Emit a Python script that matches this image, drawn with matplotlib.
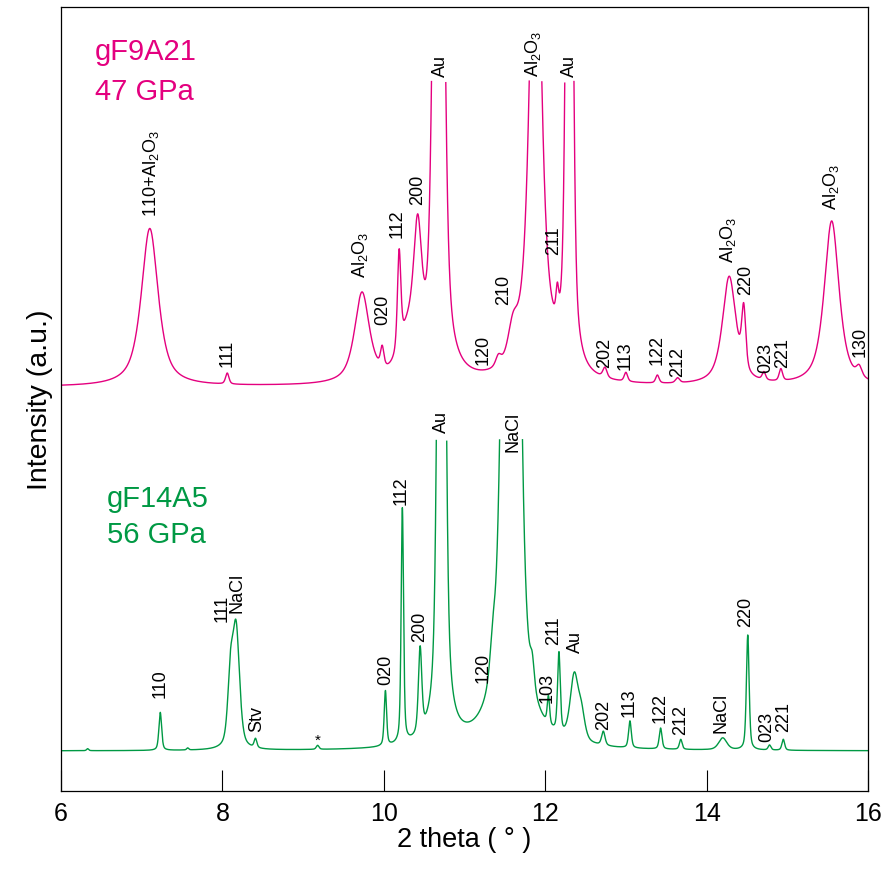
import numpy as np
import matplotlib
matplotlib.use("Agg")
import matplotlib.pyplot as plt

plt.rcParams["font.family"] = ["Liberation Sans", "DejaVu Sans"]
plt.rcParams["mathtext.fontset"] = "custom"
plt.rcParams["mathtext.rm"] = "Liberation Sans"
plt.rcParams["mathtext.it"] = "Liberation Sans:italic"

PINK = "#e4007f"
GREEN = "#009944"

# Patron gF9A21 (47 GPa): posicion 2theta, altura, ancho (FWHM), fraccion lorentziana
pink_pos = [7.10, 8.06, 9.73, 9.98, 10.19, 10.30, 10.42, 10.68, 11.42, 11.60,
            11.88, 12.15, 12.30, 12.74, 13.00, 13.39, 13.64, 14.28, 14.46, 14.71,
            14.92, 15.55, 15.89]
pink_height = [158, 11, 90, 20, 97, 40, 120, 1100, 10, 30,
               580, 28, 990, 10, 9, 8, 5, 108, 60, 8,
               12, 165, 10]
pink_fwhm = [0.25, 0.05, 0.22, 0.05, 0.05, 0.25, 0.12, 0.12, 0.08, 0.14,
             0.16, 0.04, 0.08, 0.06, 0.05, 0.05, 0.06, 0.20, 0.06, 0.05,
             0.05, 0.22, 0.08]
pink_eta = [0.75, 0.5, 0.75, 0.5, 0.5, 0.5, 0.6, 0.5, 0.5, 0.5,
            0.9, 0.5, 0.5, 0.5, 0.5, 0.5, 0.5, 0.75, 0.5, 0.5,
            0.5, 0.75, 0.5]
pink_offset = 404
pink_clip = 710

# Patron gF14A5 (56 GPa)
green_pos = [6.33, 7.23, 7.57, 8.10, 8.17, 8.41, 9.18, 10.02, 10.23, 10.45,
             10.715, 11.35, 11.577, 11.84, 12.04, 12.17, 12.36, 12.45, 12.72, 13.05,
             13.43, 13.68, 14.20, 14.51, 14.78, 14.95]
green_height = [2, 38, 2, 65, 118, 9, 4, 55, 235, 85,
                1200, 32, 1500, 25, 28, 80, 65, 25, 14, 27,
                21, 10, 12, 115, 5, 11]
green_fwhm = [0.03, 0.04, 0.03, 0.08, 0.10, 0.04, 0.04, 0.035, 0.035, 0.05,
              0.085, 0.08, 0.17, 0.06, 0.035, 0.04, 0.12, 0.10, 0.05, 0.04,
              0.04, 0.04, 0.12, 0.04, 0.04, 0.04]
green_eta = [0.5] * len(green_pos)
green_offset = 40
green_clip = 352

AL = r"Al$_\mathregular{2}$O$_\mathregular{3}$"

# Etiquetas de picos: texto, 2theta, altura (base del texto)
pink_labels = [("110+" + AL, 7.12, 575), ("111", 8.06, 425), (AL, 9.70, 514),
               ("020", 9.99, 467), ("112", 10.17, 554), ("200", 10.42, 587),
               ("Au", 10.70, 715), ("120", 11.23, 427), ("210", 11.48, 487),
               (AL, 11.85, 715), ("211", 12.11, 537), ("Au", 12.30, 715),
               ("202", 12.74, 424), ("113", 12.99, 422), ("122", 13.39, 427),
               ("212", 13.64, 415), (AL, 14.26, 529), ("220", 14.48, 497),
               ("023", 14.73, 419), ("221", 14.94, 424), (AL, 15.54, 582),
               ("130", 15.90, 435)]
green_labels = [("110", 7.23, 94), ("111", 8.00, 170), ("NaCl", 8.18, 179),
                ("Stv", 8.43, 60), ("020", 10.02, 107), ("112", 10.21, 287),
                ("200", 10.45, 150), ("Au", 10.71, 359), ("120", 11.23, 109),
                ("NaCl", 11.60, 340), ("103", 12.03, 89), ("211", 12.11, 147),
                ("Au", 12.37, 139), ("202", 12.72, 62), ("113", 13.04, 75),
                ("122", 13.43, 69), ("212", 13.68, 57), ("NaCl", 14.18, 59),
                ("220", 14.48, 165), ("023", 14.75, 50), ("221", 14.96, 60)]


def perfil(x, pos, height, fwhm, eta, offset):
    y = np.full_like(x, float(offset))
    for p, h, w, e in zip(pos, height, fwhm, eta):
        u = (x - p) / (w / 2.0)
        y += h * (e / (1.0 + u ** 2) + (1 - e) * np.exp(-np.log(2) * u ** 2))
    return y


x = np.linspace(6, 16, 40001)
y_pink = perfil(x, pink_pos, pink_height, pink_fwhm, pink_eta, pink_offset)
y_green = perfil(x, green_pos, green_height, green_fwhm, green_eta, green_offset)
y_pink = np.where(y_pink > pink_clip, np.nan, y_pink)
y_green = np.where(y_green > green_clip, np.nan, y_green)

fig = plt.figure(figsize=(8.89, 8.78), dpi=100)
ax = fig.add_axes([61 / 889, 86 / 878, 807 / 889, 784 / 878])
ax.plot(x, y_pink, color=PINK, lw=1.0)
ax.plot(x, y_green, color=GREEN, lw=1.0)

for txt, xp, yp in pink_labels + green_labels:
    ax.text(xp, yp, txt, rotation=90, ha="center", va="bottom", fontsize=13)
ax.text(9.18, 44, "*", ha="center", va="bottom", fontsize=11)

ax.text(6.42, 732, "gF9A21", color=PINK, fontsize=21, va="baseline")
ax.text(6.42, 692, "47 GPa", color=PINK, fontsize=21, va="baseline")
ax.text(6.57, 285, "gF14A5", color=GREEN, fontsize=21, va="baseline")
ax.text(6.57, 249, "56 GPa", color=GREEN, fontsize=21, va="baseline")

ax.set_xlim(6, 16)
ax.set_ylim(0, 784)
ax.set_xticks([6, 8, 10, 12, 14, 16])
ax.set_yticks([])
ax.tick_params(axis="x", direction="in", length=15, width=0.8, labelsize=18, pad=7)
for s in ax.spines.values():
    s.set_linewidth(0.9)
ax.set_xlabel("2 theta ( ° )", fontsize=19.5, labelpad=1)
ax.set_ylabel("Intensity (a.u.)", fontsize=20.5, labelpad=6)

fig.savefig("out.png", dpi=100)
